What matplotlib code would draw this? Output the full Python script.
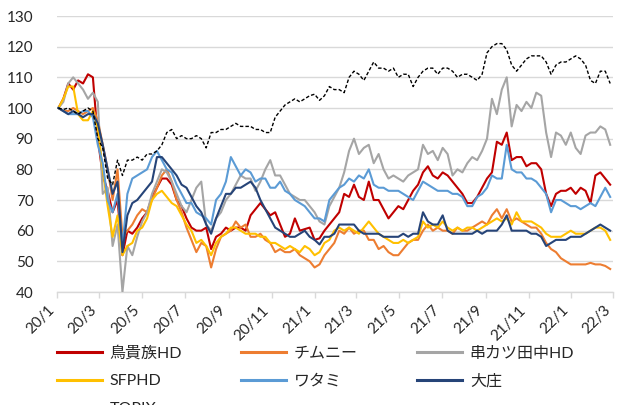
import matplotlib
matplotlib.use("Agg")
import matplotlib.pyplot as plt
import pandas as pd
from matplotlib.lines import Line2D

# ---------------- data (weekly readings, index = 100 at 2020-01) ----------------
start_date = "2020-01-03"

torikizoku = [100,103,108,106,109,108,111,110,90,78,
              73,66,70,52,60,59,61,64,66,71,
              74,77,77,75,70,68,64,61,60,60,
              61,54,58,59,61,60,61,61,60,65,
              67,69,67,65,66,62,58,59,64,60,
              60.5,61,57,57.5,60,62,64,66,72,71,
              75,71,70,76,70,70,67,64,66,68,
              67,70,73,75,79,81,78,77,79,78,
              76,74,72,69,69,71,74,77,79,89,
              88,92,83,84,84,81,82,82,80,72,
              68,72,73,73,74,72,74,73,69,78,
              79,77,75]

chimney = [100,99,99,100,99,98,99,100,96,88,
           80,70,80,58,60,62,65,67,66,70,
           74,78,80,76,70,66,61,57,53,56,
           55,48,54,58,59,60,63,61,62,58,
           58,59,57,56,53,54,53,53,54,52,
           51,50,48,49,52,54,56,60,59,61,
           59,60,60,57,57,54,55,53,52,52,
           54,56,57,57,60,62,60,61,60,60,
           59,61,60,60,61,62,63,62,65,67,
           64,67,63,64,63,62,61,61,59,56,
           54,53,51,50,49,49,49,49,49.5,49,
           49,48.5,47.5]

kushikatsu = [100,102,108,110,108,106,103,105,102,72,
              74,55,62,40,55,52,58,63,66,72,
              76,80,79,76,72,68,66,70,74,76,
              62,60,64,66,70,72,75,78,77,77,
              73,76,80,83,78,78,75,72,71,70,
              70,68,66,63,62,68,71,74,79,86,
              90,85,87,88,82,85,80,77,78,77,
              76,78,79,80,88,85,86,83,87,85,
              78,80,79,82,84,83,86,90,103,98,
              106,110,94,101,99,102,100,105,104,92,
              84,92,91,88,92,87,85,91,92,92,
              94,93,88]

sfphd = [100,103,107,107,98,96,96,99,93,80,
         68,58,65,52,55,56,60,61,64,70,
         72,73,71,69,68,65,62,60,56,57,
         55,52,56,58,59,61,61,60,59,59,
         59,58,58,56,56,55,54,55,54,53,
         55,54,52,53,56,57,60,61,60,61,
         60,59,61,63,61,59,58,57,56,56,
         57,56,57,58,63,61,62,61,63,61,
         60,61,60,61,61,60,61,62,63,64,
         63,64,62,66,63,63,63,62,61,59,
         58,58,58,59,60,59,59,59,60,61,
         61,60,57]

watami = [100,99,98,98,98,99,99,97,88,82,
          70,66,72,55,72,77,78,79,80,84,
          86,83,80,79,75,72,69,69,66,65,
          64,62,70,72,76,84,81,78,80,79,
          76,77,77,74,74,76,73,72,70,69,
          68,66,64,64,63,70,72,74,75,77,
          76,78,77,80,75,74,74,73,73,73,
          72,71,70,73,76,75,74,73,73,73,
          72,72,71,68,68,71,72,74,78,77,
          77,88,80,79,79,77,77,76,74,72,
          66,70,70,69,68,68,67,68,69,68,
          71,74,71]

daisho = [100,99,98,99,98,97,98,98,95,88,
          80,72,76,53,65,69,70,72,74,76,
          84,84,82,80,78,75,74,71,68,66,
          62,59,64,68,72,72,74,74,75,76,
          74,70,67,64,61,60,59,58,58,59,
          60,58,57,55.5,58,58,59,62,62,62,
          62,60,59,59,59,59,58,58,58,58,
          59,58,59,59,66,63,62,62,65,60,
          59,59,59,59,59,60,59,60,60,60,
          62,65,60,60,60,60,59,59,58,55,
          56,57,57,57,58,58,58,59,60,61,
          62,61,60]

topix = [100,99.5,100,99,98,99,100,99,90,87,
         77,75,83,78,83,83,84,83,85,85,
         86,88,92,93,90,91,90,90,91,90,
         87,92,92,93,93,94,95,94,94,94,
         93,93,92,92,97,99,101,102,103,102,
         103,104,104.5,102.5,104,107,106,106,105,110,
         112,111,109,112,115,113,113,112,113,110,
         111,111,107,110,112,113,113,111,113,113,
         112,110,111,111,110,109,111,118,120,121,
         121,119,114,112,114,116,117,117,117,115,
         111,114,115,115,116,117,116,114,109,108,
         112,112,108]

series_names = ["鳥貴族HD", "チムニー", "串カツ田中HD", "SFPHD", "ワタミ", "大庄", "TOPIX"]
series_values = [torikizoku, chimney, kushikatsu, sfphd, watami, daisho, topix]
series_colors = ["#C00000", "#ED7D31", "#A5A5A5", "#FFC000", "#5B9BD5", "#264478", "#000000"]

x_tick_dates = ["2020-01-01", "2020-03-01", "2020-05-01", "2020-07-01", "2020-09-01",
                "2020-11-01", "2021-01-01", "2021-03-01", "2021-05-01", "2021-07-01",
                "2021-09-01", "2021-11-01", "2022-01-01", "2022-03-01"]
x_tick_labels = ["20/1", "20/3", "20/5", "20/7", "20/9", "20/11", "21/1", "21/3",
                 "21/5", "21/7", "21/9", "21/11", "22/1", "22/3"]
y_ticks = [40, 50, 60, 70, 80, 90, 100, 110, 120, 130]

# ---------------- plot ----------------
plt.rcParams["font.family"] = ["Lato", "Noto Sans CJK JP", "DejaVu Sans"]

W, H = 626, 405
fig = plt.figure(figsize=(W / 100, H / 100), dpi=100)
ax = fig.add_axes([57 / W, 1 - 292 / H, (613 - 57) / W, (292 - 16) / H])

dates = pd.date_range(start_date, periods=len(topix), freq="7D")

handles = {}
for name, vals, col in zip(series_names, series_values, series_colors):
    if name == "TOPIX":
        ln, = ax.plot(dates, vals, color=col, lw=1.0, ls=(0, (2.5, 1.5)), zorder=4)
    else:
        ln, = ax.plot(dates, vals, color=col, lw=1.5, zorder=3,
                      solid_joinstyle="round")
    handles[name] = ln

ax.set_ylim(40, 130)
ax.set_yticks(y_ticks)
ax.set_yticklabels([str(v) for v in y_ticks])
ax.set_xlim(pd.Timestamp("2020-01-01"), pd.Timestamp("2022-03-01"))
ax.set_xticks(pd.to_datetime(x_tick_dates))
ax.set_xticklabels(x_tick_labels, rotation=45, ha="right", va="top",
                   rotation_mode="default")

ax.grid(axis="y", color="#D9D9D9", lw=1.0, zorder=0)
ax.set_axisbelow(True)
for s in ["top", "right", "left"]:
    ax.spines[s].set_visible(False)
ax.spines["bottom"].set_color("#D9D9D9")
ax.spines["bottom"].set_linewidth(1.0)
ax.tick_params(axis="y", length=0, pad=17, labelsize=11, labelcolor="#262626")
ax.tick_params(axis="x", length=4, width=1, color="#D9D9D9", pad=4,
               labelsize=11, labelcolor="#262626")

# legend, row-major order via column-major fill
order = ["鳥貴族HD", "SFPHD", "TOPIX", "チムニー", "ワタミ", "串カツ田中HD", "大庄"]
leg_handles = []
for nm in order:
    h = handles[nm]
    leg_handles.append(Line2D([], [], color=h.get_color(),
                              lw=(1.0 if nm == "TOPIX" else 2.2),
                              ls=h.get_linestyle()))
fig.legend(leg_handles, order, ncol=3, loc="upper left",
           bbox_to_anchor=(57 / W, 1 - 346 / H), frameon=False,
           fontsize=11.5, handlelength=2.8, handletextpad=0.5,
           columnspacing=3.7, labelspacing=0.85, borderpad=0,
           borderaxespad=0, labelcolor="#262626")

fig.savefig("out.png", dpi=100)
